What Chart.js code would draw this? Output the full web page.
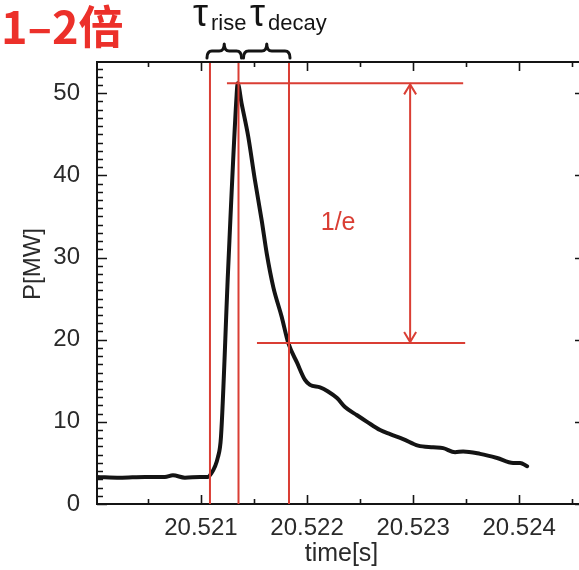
<!DOCTYPE html>
<html>
<head>
<meta charset="utf-8">
<script src="https://cdn.jsdelivr.net/npm/chart.js@4/dist/chart.umd.min.js"></script>
<style>
  html, body { margin: 0; padding: 0; overflow: hidden; background: #fff; width: 579px; height: 570px; }
  canvas { display: block; }
</style>
</head>
<body>
<canvas id="c" width="600" height="570"></canvas>
<script>
// Power pulse P(t) during one event
const timeS = [
  20.52002, 20.520236, 20.520472, 20.52066, 20.520736, 20.520849, 20.520991, 20.521066,
  20.521085, 20.52116, 20.521189, 20.521255, 20.521335, 20.521346,
  20.521384, 20.521446, 20.521509, 20.521573, 20.52162, 20.521682, 20.521761, 20.521823,
  20.521906, 20.521981, 20.522028, 20.522123, 20.522198, 20.522283, 20.522358, 20.522472,
  20.522566, 20.522689, 20.522783, 20.522906, 20.523047, 20.523189, 20.523283, 20.523396,
  20.523472, 20.523632, 20.523792, 20.523943, 20.524009, 20.524075
];
const powerMW = [
  3.3, 3.2, 3.3, 3.3, 3.5, 3.2, 3.3, 3.3,
  3.5, 5.7, 8.2, 28.2, 49.5, 51.2,
  48.7, 44.7, 39.4, 34.5, 30.5, 26.4, 22.8, 19.6,
  17.2, 15.1, 14.5, 14.2, 13.7, 12.9, 11.8, 10.8,
  10.0, 9.0, 8.5, 7.9, 7.1, 6.9, 6.8, 6.3,
  6.4, 6.1, 5.6, 5.0, 5.0, 4.6
];

// Axis ranges and ticks
const xRange = [20.52002, 20.52463];
const yRange = [0, 53.8];
const xTickValues = [20.521, 20.522, 20.523, 20.524];
const yTickValues = [0, 10, 20, 30, 40, 50];
const xMinorStep = 0.0005;
const yMinorStep = 1;

// Rise / decay markers
const tRiseStart = 20.521085;
const tPeak = 20.521354;
const tDecayEnd = 20.52183;
const pPeak = 51.2;
const pDecay = 19.6;
const peakLevelSpan = [20.521245, 20.523472];
const decayLevelSpan = [20.521528, 20.523491];
const tArrow = 20.522972;

const RED = 'rgb(218,62,52)';
const INK = '#141414';
const TEXT = '#2a2a2a';
const SANS = '"Liberation Sans", Arial, sans-serif';

function seg(x0, y0, x1, y1) {
  return {
    data: [{ x: x0, y: y0 }, { x: x1, y: y1 }],
    borderColor: RED, borderWidth: 2, pointRadius: 0, tension: 0, order: 0
  };
}

const frameAndNotes = {
  id: 'frameAndNotes',
  afterDatasetsDraw(chart) {
    const { ctx, scales: { x, y } } = chart;
    ctx.save();

    // arrow heads on the 1/e span
    const ax = x.getPixelForValue(tArrow);
    const yTop = y.getPixelForValue(pPeak);
    const yBot = y.getPixelForValue(pDecay);
    ctx.strokeStyle = RED; ctx.lineWidth = 2; ctx.lineJoin = 'miter';
    ctx.beginPath();
    ctx.moveTo(ax - 6, yTop + 11); ctx.lineTo(ax, yTop + 1); ctx.lineTo(ax + 6, yTop + 11);
    ctx.moveTo(ax - 6, yBot - 11); ctx.lineTo(ax, yBot - 1); ctx.lineTo(ax + 6, yBot - 11);
    ctx.stroke();

    // 1/e label
    ctx.fillStyle = RED;
    ctx.font = '25px ' + SANS;
    ctx.textAlign = 'center'; ctx.textBaseline = 'middle';
    ctx.fillText('1/e', x.getPixelForValue(20.522293), y.getPixelForValue(34.2));
    ctx.restore();
  },
  afterDraw(chart) {
    const { ctx, chartArea: a, scales: { x, y } } = chart;
    ctx.save();
    ctx.strokeStyle = INK; ctx.lineWidth = 2;

    // top and right frame lines
    ctx.beginPath();
    ctx.moveTo(a.left, a.top); ctx.lineTo(chart.width, a.top);
    ctx.moveTo(a.right, a.top); ctx.lineTo(a.right, a.bottom);
    ctx.stroke();

    // inward ticks on all four sides
    ctx.lineWidth = 1.6;
    ctx.beginPath();
    for (let v = yRange[0]; v <= yRange[1] + 1e-9; v += yMinorStep) {
      const py = Math.round(y.getPixelForValue(v)) + 0.5;
      const major = Math.abs(v % 10) < 1e-9;
      const len = major ? 10 : 6;
      ctx.moveTo(a.left, py); ctx.lineTo(a.left + len, py);
      if (major) { ctx.moveTo(a.right, py); ctx.lineTo(a.right - 11, py); }
    }
    for (let k = 0; ; k++) {
      const t = 20.5200 + k * xMinorStep;
      if (t > xRange[1]) break;
      if (t < xRange[0]) continue;
      const px = Math.round(x.getPixelForValue(t)) + 0.5;
      const major = k % 2 === 0;
      const len = major ? 9 : 5;
      ctx.moveTo(px, a.bottom); ctx.lineTo(px, a.bottom - len);
      ctx.moveTo(px, a.top); ctx.lineTo(px, a.top + len);
    }
    ctx.stroke();

    // braces over the rise and decay intervals
    const x0 = x.getPixelForValue(tRiseStart) - 3;
    const x1 = x.getPixelForValue(tPeak) + 3;
    const x2 = x.getPixelForValue(tPeak) + 5;
    const x3 = x.getPixelForValue(tDecayEnd) + 1;
    ctx.lineWidth = 3; ctx.lineCap = 'round'; ctx.lineJoin = 'round';
    function brace(l, r) {
      const m = (l + r) / 2, yb = 58, yc = 51, yt = 44;
      ctx.beginPath();
      ctx.moveTo(l, yb);
      ctx.quadraticCurveTo(l, yc, l + 5, yc);
      ctx.lineTo(m - 5, yc);
      ctx.quadraticCurveTo(m, yc, m, yt);
      ctx.quadraticCurveTo(m, yc, m + 5, yc);
      ctx.lineTo(r - 5, yc);
      ctx.quadraticCurveTo(r, yc, r, yb);
      ctx.stroke();
    }
    brace(x0, x1);
    brace(x2, x3);

    // tau labels
    ctx.fillStyle = INK;
    ctx.textAlign = 'left'; ctx.textBaseline = 'alphabetic';
    ctx.font = '38px ' + SANS;
    ctx.fillText('τ', 193, 26);
    ctx.fillText('τ', 250, 26);
    ctx.font = '22px ' + SANS;
    ctx.fillText('rise', 211, 30);
    ctx.fillText('decay', 268, 30);

    // y axis title
    ctx.save();
    ctx.translate(33, 264);
    ctx.rotate(-Math.PI / 2);
    ctx.fillStyle = TEXT;
    ctx.font = '24px ' + SANS;
    ctx.textAlign = 'center'; ctx.textBaseline = 'middle';
    ctx.fillText('P[MW]', 0, 0);
    ctx.restore();

    // headline
    ctx.fillStyle = 'rgb(236,48,42)';
    ctx.font = 'bold 45px "Noto Sans CJK SC", "Noto Sans CJK JP", sans-serif';
    ctx.textAlign = 'left'; ctx.textBaseline = 'alphabetic';
    ctx.fillText('1–2倍', 1, 44);
    ctx.restore();
  }
};

const tickFont = { family: SANS, size: 24 };

new Chart(document.getElementById('c'), {
  type: 'line',
  data: {
    datasets: [
      {
        data: timeS.map((t, i) => ({ x: t, y: powerMW[i] })),
        borderColor: INK, borderWidth: 4, pointRadius: 0,
        cubicInterpolationMode: 'monotone', borderJoinStyle: 'round', borderCapStyle: 'round',
        order: 1
      },
      seg(tRiseStart, yRange[0], tRiseStart, yRange[1]),
      seg(tPeak, yRange[0], tPeak, yRange[1]),
      seg(tDecayEnd, yRange[0], tDecayEnd, yRange[1]),
      seg(peakLevelSpan[0], pPeak, peakLevelSpan[1], pPeak),
      seg(decayLevelSpan[0], pDecay, decayLevelSpan[1], pDecay),
      seg(tArrow, pPeak, tArrow, pDecay)
    ]
  },
  options: {
    responsive: false,
    animation: false,
    events: [],
    layout: { padding: { top: 62, right: 14, left: 0, bottom: 0 } },
    plugins: { legend: { display: false }, tooltip: { enabled: false } },
    scales: {
      x: {
        type: 'linear', min: xRange[0], max: xRange[1],
        afterFit(s) { s.height = 66; },
        afterBuildTicks(s) { s.ticks = xTickValues.map(v => ({ value: v })); },
        grid: { display: false },
        border: { display: true, color: INK, width: 2 },
        ticks: { font: tickFont, color: TEXT, padding: 2, maxRotation: 0, autoSkip: false,
                 callback: v => v.toFixed(3) },
        title: { display: true, text: 'time[s]', font: { family: SANS, size: 25 },
                 color: TEXT, padding: { top: 0, bottom: 1 } }
      },
      y: {
        type: 'linear', min: yRange[0], max: yRange[1],
        afterFit(s) { s.width = 97; },
        afterBuildTicks(s) { s.ticks = yTickValues.map(v => ({ value: v })); },
        grid: { display: false },
        border: { display: true, color: INK, width: 2 },
        ticks: { font: tickFont, color: TEXT, padding: 9 },
        title: { display: false }
      }
    }
  },
  plugins: [frameAndNotes]
});
</script>
</body>
</html>
